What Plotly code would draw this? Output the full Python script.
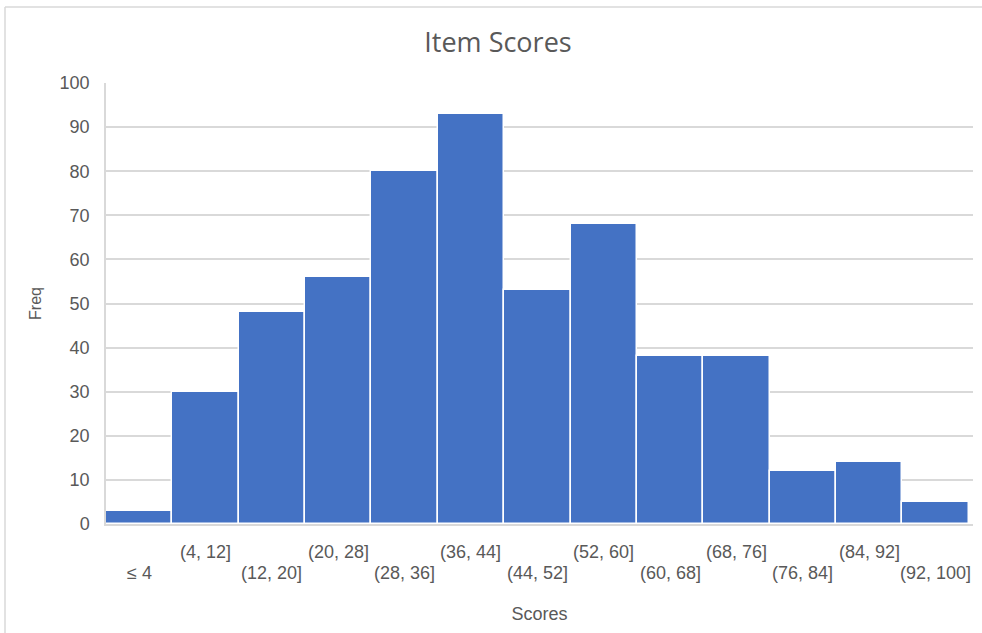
import plotly.graph_objects as go

# Histogram bins and their counts
bins = ["≤ 4", "(4, 12]", "(12, 20]", "(20, 28]", "(28, 36]", "(36, 44]", "(44, 52]",
        "(52, 60]", "(60, 68]", "(68, 76]", "(76, 84]", "(84, 92]", "(92, 100]"]
freq = [3, 30, 48, 56, 80, 93, 53, 68, 38, 38, 12, 14, 5]
y_ticks = list(range(0, 101, 10))

W, H = 982, 633
L, R, T, B = 106, 9, 83, 109

BAR = "#4472C4"
GRID = "#D9D9D9"
TEXT = "#595959"
SANS = "Liberation Sans, Arial, sans-serif"

fig = go.Figure(
    go.Bar(
        x=bins,
        y=freq,
        marker=dict(color=BAR, line=dict(color="white", width=1.5)),
        hoverinfo="x+y",
    )
)

# Staggered category labels: odd bins on the upper row, even bins below
annotations = []
for i, b in enumerate(bins):
    annotations.append(dict(
        x=b, y=0, xref="x", yref="y",
        text=b, showarrow=False,
        yanchor="middle", xanchor="center",
        yshift=-28 if i % 2 else -49,
        font=dict(family=SANS, size=18, color=TEXT),
    ))

pw = W - L - R
ph = H - T - B
# Chart frame (top and left edges)
shapes = [
    dict(type="line", xref="paper", yref="paper",
         x0=(5 - L) / pw, x1=(W - L + 5) / pw,
         y0=1 + (T - 7) / ph, y1=1 + (T - 7) / ph,
         line=dict(color=GRID, width=1.5)),
    dict(type="line", xref="paper", yref="paper",
         x0=(5 - L) / pw, x1=(5 - L) / pw,
         y0=1 + (T - 7) / ph, y1=-(B + 5) / ph,
         line=dict(color=GRID, width=1.5)),
]

fig.update_layout(
    width=W, height=H,
    margin=dict(l=L, r=R, t=T, b=B, pad=0),
    paper_bgcolor="white",
    plot_bgcolor="white",
    bargap=0,
    showlegend=False,
    title=dict(
        text="Item Scores",
        x=498 / W, xanchor="center",
        y=1 - 43 / H, yanchor="middle",
        font=dict(family="Open Sans, sans-serif", size=27, color=TEXT),
    ),
    xaxis=dict(
        type="category",
        showticklabels=False,
        showgrid=False,
        showline=True, linecolor=GRID, linewidth=1.5,
        ticks="",
        title=dict(text="Scores", standoff=83,
                   font=dict(family=SANS, size=18, color=TEXT)),
    ),
    yaxis=dict(
        range=[0, 100],
        tickvals=y_ticks,
        showgrid=True, gridcolor=GRID, gridwidth=1.5,
        showline=True, linecolor=GRID, linewidth=1.5,
        zeroline=False,
        ticks="outside", ticklen=11, tickcolor="rgba(0,0,0,0)",
        tickfont=dict(family=SANS, size=18, color=TEXT),
        title=dict(text="Freq", standoff=14,
                   font=dict(family=SANS, size=16, color=TEXT)),
    ),
    annotations=annotations,
    shapes=shapes,
)

fig.write_html("out.html")
